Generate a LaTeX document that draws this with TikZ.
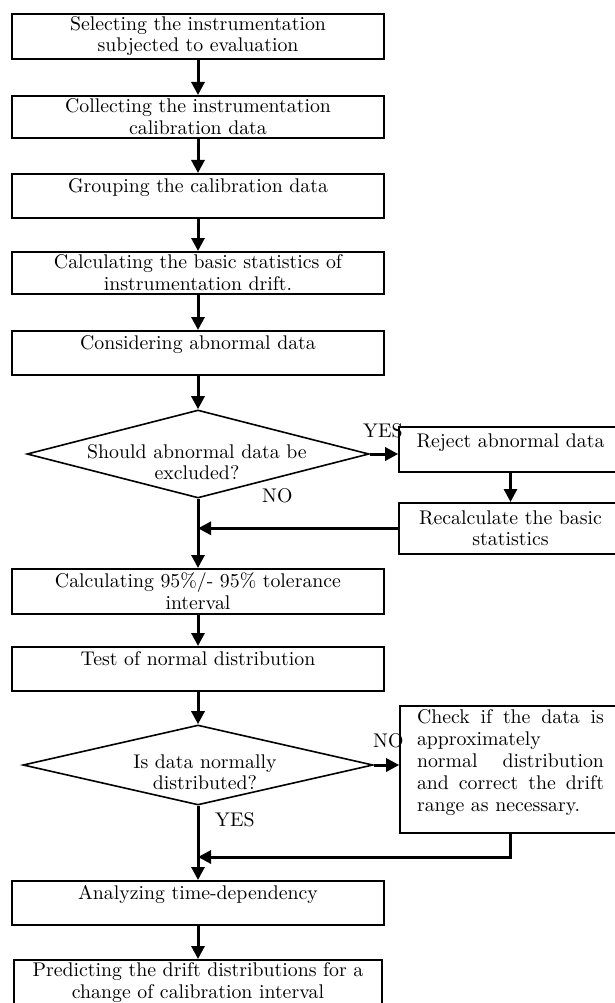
\documentclass[tikz,border=0pt]{standalone}
\usepackage{fontspec}
\setmainfont{lmroman10-regular.otf}
\usetikzlibrary{shapes.geometric,arrows.meta}

\newcommand{\flowfont}{\fontsize{19.8}{21.5}\selectfont}

\tikzset{
  stepbox/.style={draw, line width=1.6pt, inner xsep=4pt, inner ysep=0pt, align=center, font=\flowfont},
  mainbox/.style={stepbox, minimum width=372pt},
  twobox/.style={mainbox, minimum height=#1},
  onebox/.style={mainbox, text height=19pt, text depth=25pt},
  sidebox/.style={stepbox, minimum width=223pt},
  decision/.style={diamond, draw, line width=1.6pt, inner sep=0pt},
  flow/.style={line width=3pt, -{Triangle[length=13pt,width=13pt]}},
  answer/.style={anchor=base west, inner sep=0pt, font=\flowfont}
}

\begin{document}
\begin{tikzpicture}[x=1pt, y=-1pt]
    \path[use as bounding box, fill=white] (0,0) rectangle (614,1003);

    % Main column
    \node[twobox=45pt, anchor=north] (sel) at (198,13) {Selecting the instrumentation\\subjected to evaluation};
    \node[twobox=42pt, anchor=north] (col) at (198,95) {Collecting the instrumentation\\calibration data};
    \node[onebox, anchor=north] (grp) at (198,173) {Grouping the calibration data};
    \node[twobox=42pt, anchor=north] (stat) at (198,251) {Calculating the basic statistics of\\instrumentation drift.};
    \node[onebox, anchor=north] (cons) at (198,330) {Considering abnormal data};

    % First decision
    \node[decision, minimum width=342pt, minimum height=88pt] (excl) at (198,454) {};
    \node[align=center, font=\flowfont, inner sep=0pt] (excltxt) at (197,462) {Should abnormal data be\\excluded?};

    % Rejection branch
    \node[sidebox, anchor=north, text height=21pt, text depth=24pt] (rej) at (510.5,426) {Reject abnormal data};
    \node[sidebox, anchor=north, minimum height=51pt] (rec) at (510.5,502) {Recalculate the basic\\statistics};

    \node[twobox=45pt, anchor=north] (tol) at (198,568) {Calculating 95\%/- 95\% tolerance\\interval};
    \node[onebox, anchor=north] (test) at (198,646) {Test of normal distribution};

    % Second decision
    \node[decision, minimum width=350pt, minimum height=80pt] (norm) at (198,765) {};
    \node[align=center, font=\flowfont, inner sep=0pt] (normtxt) at (205,772) {Is data normally\\distributed?};

    % Correction branch
    \node[stepbox, anchor=north, text width=187pt, inner xsep=17pt, inner ysep=5pt, align=left,
          text height=13pt, text depth=104pt, font=\fontsize{19.8}{22}\selectfont] (chk) at (510.5,705)
      {\makebox[187pt][s]{Check\hfill if\hfill the\hfill data\hfill is}\\
       approximately\\
       \makebox[187pt][s]{normal\hfill distribution}\\
       \makebox[187pt][s]{and\hfill correct\hfill the\hfill drift}\\
       range as necessary.};

    \node[onebox, anchor=north] (ana) at (198,880) {Analyzing time-dependency};
    \node[twobox=45pt, anchor=north, minimum width=368pt] (pred) at (198,959) {Predicting the drift distributions for a\\change of calibration interval};

    % Answers
    \node[answer] (yes1) at (363,437) {YES};
    \node[answer] (no1) at (262,502) {NO};
    \node[answer] (no2) at (373,747) {NO};
    \node[answer] (yes2) at (215,826) {YES};

    % Connectors
    \coordinate (back2) at (198,857);
    \draw[flow] (sel) -- (col);
    \draw[flow] (col) -- (grp);
    \draw[flow] (grp) -- (stat);
    \draw[flow] (stat) -- (cons);
    \draw[flow] (cons) -- (excl.north);
    \draw[flow] (excl.east) -- (excl.east -| rej.west);
    \draw[flow] (rej) -- (rec);
    \draw[flow] (rec.west) -- (rec.west -| excl.south);
    \draw[flow] (excl.south) -- (tol.north);
    \draw[flow] (tol) -- (test);
    \draw[flow] (test) -- (norm.north);
    \draw[flow] (norm.east) -- (norm.east -| chk.west);
    \draw[flow] (chk.south) |- (back2);
    \draw[flow] (norm.south) -- (ana.north);
    \draw[flow] (ana) -- (pred);
\end{tikzpicture}
\end{document}
